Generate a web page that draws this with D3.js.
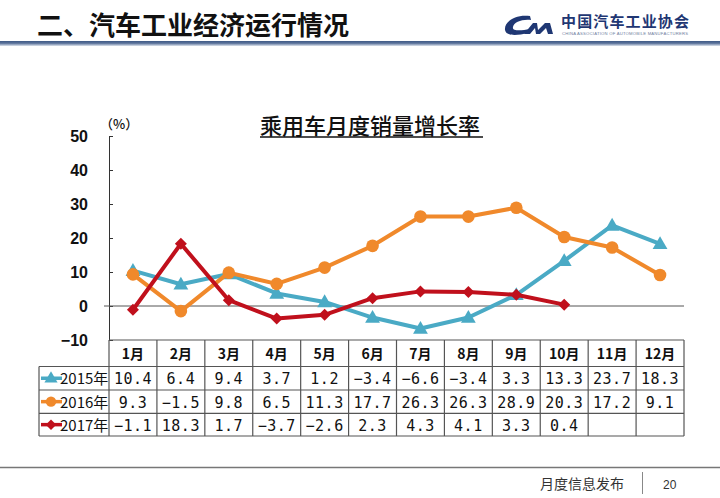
<!DOCTYPE html>
<html><head><meta charset="utf-8">
<script src="https://cdn.jsdelivr.net/npm/d3@7/dist/d3.min.js"></script>
<style>
html,body{margin:0;padding:0;background:#fff;}
svg{display:block;}
</style></head>
<body>
<script>
const months = ["1月","2月","3月","4月","5月","6月","7月","8月","9月","10月","11月","12月"];
const seriesNames = ["2015年","2016年","2017年"];
const s2015 = [10.4,6.4,9.4,3.7,1.2,-3.4,-6.6,-3.4,3.3,13.3,23.7,18.3];
const s2016 = [9.3,-1.5,9.8,6.5,11.3,17.7,26.3,26.3,28.9,20.3,17.2,9.1];
const s2017 = [-1.1,18.3,1.7,-3.7,-2.6,2.3,4.3,4.1,3.3,0.4];
const yTicks = [-10,0,10,20,30,40,50];
const colors = ["#4aaac5","#f0892b","#c0101c"];
const shapes = [d3.symbolTriangle, d3.symbolCircle, d3.symbolSquare];
const rot = [0, 0, 45];
const allSeries = [s2015, s2016, s2017];

const W = 720, H = 498;
const svg = d3.select("body").append("svg").attr("width", W).attr("height", H);

// ---- header ----
svg.append("text").attr("x", 37).attr("y", 35)
  .attr("font-family", "'Noto Sans CJK SC'").attr("font-weight", 700)
  .attr("font-size", 26).attr("fill", "#111").text("二、汽车工业经济运行情况");
const defs = svg.append("defs");
const lg = defs.append("linearGradient").attr("id","hl").attr("x1",0).attr("y1",0).attr("x2",0).attr("y2",1);
lg.append("stop").attr("offset","0%").attr("stop-color","#3f5a86");
lg.append("stop").attr("offset","45%").attr("stop-color","#5a729a");
lg.append("stop").attr("offset","100%").attr("stop-color","#dde3ec");
svg.append("rect").attr("x",0).attr("y",41).attr("width",W).attr("height",5).attr("fill","url(#hl)");
// logo
svg.append("path")
  .attr("d","M530,16 C515,14 504,22 505,30 C506,36 516,36 528,33 L530,29 C520,31 512,31 513,27 C514,22 522,19 531,20 Z")
  .attr("fill","#1f3773");
svg.append("path")
  .attr("d","M524,34 L533,23 L537,23 L538,30 L545,23 L550,23 L553,34 L548,34 L546,28 L540,34 L536,34 L535,28 L530,34 Z")
  .attr("fill","#1f3773");
svg.append("text").attr("x",561).attr("y",27).attr("font-family","'Noto Sans CJK SC'")
  .attr("font-weight",700).attr("font-size",15).attr("fill","#1f3773")
  .attr("textLength",128).text("中国汽车工业协会");
svg.append("text").attr("x",562).attr("y",35).attr("font-family","'Liberation Sans'")
  .attr("font-size",4.2).attr("fill","#7080a0").attr("textLength",126)
  .text("CHINA ASSOCIATION OF AUTOMOBILE MANUFACTURERS");

// ---- footer ----
svg.append("line").attr("x1",0).attr("x2",W).attr("y1",467.5).attr("y2",467.5)
  .attr("stroke","#777").attr("stroke-width",1.5);
svg.append("text").attr("x",540).attr("y",489).attr("font-family","'Noto Sans CJK SC'")
  .attr("font-size",14).attr("fill","#333").text("月度信息发布");
svg.append("line").attr("x1",642.5).attr("x2",642.5).attr("y1",472).attr("y2",494)
  .attr("stroke","#888").attr("stroke-width",1);
svg.append("text").attr("x",663).attr("y",489).attr("font-family","'Liberation Sans'")
  .attr("font-size",12).attr("fill","#333").text("20");

// ---- chart ----
const x = d3.scaleBand().domain(months).range([109, 684]);
const y = d3.scaleLinear().domain([-10, 50]).range([340, 136]);
const cx = m => x(m) + x.bandwidth()/2;

// title
svg.append("text").attr("x", 260).attr("y", 134).attr("font-family","'Noto Sans CJK SC'")
  .attr("font-weight",500).attr("font-size",22).attr("fill","#111").text("乘用车月度销量增长率");
svg.append("line").attr("x1",260).attr("x2",483).attr("y1",137).attr("y2",137)
  .attr("stroke","#111").attr("stroke-width",1.6);
svg.append("text").attr("x", 100).attr("y", 129).attr("font-family","'Noto Sans CJK SC'")
  .attr("font-weight",500).attr("font-size",13).attr("fill","#111").text("（%）");

// y axis
const yAxis = d3.axisRight(y).tickValues(yTicks).tickSize(4).tickFormat("");
const ga = svg.append("g").attr("transform","translate(109,0)").call(yAxis);
ga.select(".domain").attr("stroke","#333");
ga.selectAll(".tick line").attr("stroke","#333");
svg.append("g").selectAll("text").data(yTicks).join("text")
  .attr("x", 88).attr("y", d => y(d) + 6).attr("text-anchor","end")
  .attr("font-family","'Liberation Sans'").attr("font-weight",700).attr("font-size",16)
  .attr("fill","#111").text(d => d < 0 ? "−" + Math.abs(d) : d);

// zero line
svg.append("line").attr("x1",104).attr("x2",684).attr("y1",y(0)).attr("y2",y(0))
  .attr("stroke","#555").attr("stroke-width",1);

// series lines and markers
const sizes = [95, 125, 72];
allSeries.forEach((s, i) => {
  const pts = s.map((v, j) => [cx(months[j]), y(v)]);
  svg.append("path").attr("d", d3.line()(pts)).attr("fill","none")
    .attr("stroke", colors[i]).attr("stroke-width",4).attr("stroke-linejoin","round");
  svg.append("g").selectAll("path").data(pts).join("path")
    .attr("transform", p => `translate(${p[0]},${p[1] + (i===0?1:0)}) rotate(${rot[i]})`)
    .attr("d", d3.symbol().type(shapes[i]).size(sizes[i]))
    .attr("fill", colors[i]);
});

// ---- table ----
const rowsY = [340, 366.5, 390, 413.3, 436];
const tb = svg.append("g");
const lineStyle = sel => sel.attr("stroke","#555").attr("stroke-width",1.2);
tb.append("line").attr("x1",109).attr("x2",684).attr("y1",rowsY[0]).attr("y2",rowsY[0]).call(lineStyle);
rowsY.slice(1).forEach(yy => tb.append("line").attr("x1",39).attr("x2",684).attr("y1",yy).attr("y2",yy).call(lineStyle));
tb.append("line").attr("x1",39).attr("x2",39).attr("y1",rowsY[1]).attr("y2",rowsY[4]).call(lineStyle);
const edges = months.map(m => x(m)).concat([684]);
tb.selectAll(".v").data(edges).join("line").attr("class","v")
  .attr("x1", d => d).attr("x2", d => d).attr("y1", rowsY[0]).attr("y2", rowsY[4]).call(lineStyle);
tb.selectAll(".mh").data(months).join("text").attr("class","mh")
  .attr("x", m => cx(m)).attr("y", rowsY[0] + 19).attr("text-anchor","middle")
  .attr("font-family","'Noto Sans CJK SC'").attr("font-weight",700).attr("font-size",14)
  .attr("fill","#111").text(m => m);
allSeries.forEach((s, i) => {
  const yc = (rowsY[i+1] + rowsY[i+2]) / 2;
  tb.append("line").attr("x1",41).attr("x2",62).attr("y1",yc).attr("y2",yc)
    .attr("stroke",colors[i]).attr("stroke-width",3.5);
  tb.append("path").attr("transform",`translate(51,${yc + (i===0?0.5:0)}) rotate(${rot[i]})`)
    .attr("d", d3.symbol().type(shapes[i]).size(i===1?85:(i===2?55:75))).attr("fill",colors[i]);
  tb.append("text").attr("x",60).attr("y",yc + 6).attr("font-family","'Noto Sans CJK SC'")
    .attr("font-size",15).attr("fill","#111").text(seriesNames[i]);
  tb.selectAll(".c"+i).data(s).join("text").attr("class","c"+i)
    .attr("x", (v, j) => cx(months[j])).attr("y", yc + 6).attr("text-anchor","middle")
    .attr("font-family","'DejaVu Sans Mono'").attr("font-size",15).attr("fill","#111")
    .attr("letter-spacing", 0.5)
    .text(v => (v < 0 ? "−" + Math.abs(v).toFixed(1) : v.toFixed(1)));
});
</script>
</body></html>
